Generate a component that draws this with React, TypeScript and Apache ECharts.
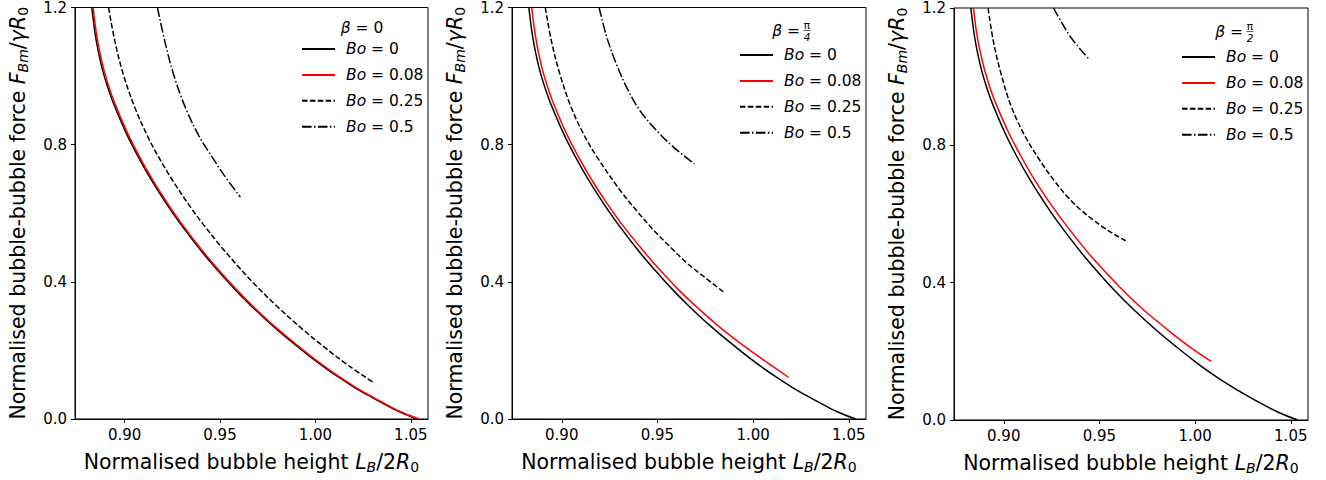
import React, { useEffect, useRef } from "react";
import * as echarts from "echarts";

// ---------- data ----------
const xTickValues = [0.9, 0.95, 1.0, 1.05];
const seriesNames = ["Bo = 0", "Bo = 0.08", "Bo = 0.25", "Bo = 0.5"];
const betaLabels = ["0", "π/4", "π/2"];

// Bo = 0 (identical for every β)
const boZeroX = [0.8828, 0.8845, 0.8862, 0.8884, 0.891, 0.8942, 0.9009, 0.907, 0.914, 0.9212, 0.9289, 0.9403, 0.949, 0.9578, 0.968, 0.9796, 0.99, 1.0005, 1.01, 1.02, 1.028, 1.035, 1.044, 1.0535];
const boZeroY = [1.2, 1.125, 1.072, 1.019, 0.97, 0.92, 0.833, 0.766, 0.697, 0.634, 0.572, 0.489, 0.432, 0.378, 0.321, 0.262, 0.214, 0.168, 0.13, 0.094, 0.068, 0.047, 0.021, 0.0];

// β = 0
const beta0Bo008X = [0.8835, 0.8852, 0.8869, 0.8891, 0.8917, 0.8949, 0.9016, 0.9077, 0.9147, 0.9219, 0.9296, 0.941, 0.9497, 0.9585, 0.9687, 0.9803, 0.9907, 1.0012, 1.0107, 1.0207, 1.0287, 1.0357, 1.0447, 1.0542];
const beta0Bo008Y = [1.2, 1.125, 1.072, 1.019, 0.97, 0.92, 0.833, 0.766, 0.697, 0.634, 0.572, 0.489, 0.432, 0.378, 0.321, 0.262, 0.214, 0.168, 0.13, 0.094, 0.068, 0.047, 0.021, 0.0];
const beta0Bo025X = [0.8916, 0.8948, 0.8992, 0.9053, 0.912, 0.918, 0.925, 0.9335, 0.941, 0.9505, 0.96, 0.9683, 0.98, 0.993, 1.005, 1.0173, 1.0305];
const beta0Bo025Y = [1.2, 1.104, 1.007, 0.909, 0.825, 0.762, 0.697, 0.626, 0.569, 0.503, 0.442, 0.392, 0.328, 0.263, 0.208, 0.156, 0.106];
const beta0Bo05X = [0.9172, 0.921, 0.9256, 0.9318, 0.939, 0.9446, 0.952, 0.9607];
const beta0Bo05Y = [1.2, 1.103, 1.006, 0.909, 0.825, 0.775, 0.712, 0.647];

// β = π/4
const beta4Bo008X = [0.8843, 0.886, 0.8877, 0.8899, 0.8925, 0.8957, 0.9024, 0.9086, 0.9157, 0.923, 0.9309, 0.9428, 0.9517, 0.9608, 0.9716, 0.9838, 0.995, 1.0065, 1.0186];
const beta4Bo008Y = [1.2, 1.125, 1.072, 1.019, 0.97, 0.92, 0.833, 0.766, 0.697, 0.634, 0.572, 0.489, 0.432, 0.378, 0.321, 0.262, 0.214, 0.168, 0.121];
const beta4Bo025X = [0.8914, 0.8945, 0.8988, 0.9045, 0.911, 0.9183, 0.9305, 0.9395, 0.9481, 0.957, 0.9656, 0.975, 0.9844];
const beta4Bo025Y = [1.2, 1.105, 1.01, 0.915, 0.835, 0.765, 0.667, 0.605, 0.55, 0.5, 0.454, 0.412, 0.371];
const beta4Bo05X = [0.9195, 0.9232, 0.9275, 0.9339, 0.9409, 0.9496, 0.9584, 0.9693];
const beta4Bo05Y = [1.2, 1.12, 1.05, 0.967, 0.899, 0.841, 0.793, 0.744];

// β = π/2
const beta2Bo008X = [0.8842, 0.8859, 0.8877, 0.89, 0.8927, 0.896, 0.9029, 0.9092, 0.9164, 0.9239, 0.932, 0.9438, 0.953, 0.9623, 0.973, 0.9858, 0.997, 1.0084];
const beta2Bo008Y = [1.2, 1.125, 1.072, 1.019, 0.97, 0.92, 0.833, 0.766, 0.697, 0.634, 0.572, 0.489, 0.432, 0.378, 0.321, 0.262, 0.214, 0.171];
const beta2Bo025X = [0.8918, 0.8945, 0.8985, 0.904, 0.911, 0.919, 0.926, 0.933, 0.94, 0.946, 0.9523, 0.958, 0.9637];
const beta2Bo025Y = [1.2, 1.105, 1.01, 0.912, 0.828, 0.755, 0.7, 0.652, 0.613, 0.586, 0.56, 0.54, 0.522];
const beta2Bo05X = [0.926, 0.93, 0.935, 0.94, 0.9447];
const beta2Bo05Y = [1.2, 1.16, 1.115, 1.08, 1.05];

// ---------- helpers ----------
const FONT = "DejaVu Sans";
const zip = (xs: number[], ys: number[]) => xs.map((x, i) => [x, ys[i]]);

const panelData = [
  [zip(boZeroX, boZeroY), zip(beta0Bo008X, beta0Bo008Y), zip(beta0Bo025X, beta0Bo025Y), zip(beta0Bo05X, beta0Bo05Y)],
  [zip(boZeroX, boZeroY), zip(beta4Bo008X, beta4Bo008Y), zip(beta4Bo025X, beta4Bo025Y), zip(beta4Bo05X, beta4Bo05Y)],
  [zip(boZeroX, boZeroY), zip(beta2Bo008X, beta2Bo008Y), zip(beta2Bo025X, beta2Bo025Y), zip(beta2Bo05X, beta2Bo05Y)],
];

const lineColors = ["#000000", "#ff0000", "#000000", "#000000"];
const lineTypes: any[] = ["solid", "solid", [5.5, 2.4], [9.6, 2.4, 1.5, 2.4]];

const grids = [
  { left: 75, top: 7, width: 353, height: 412 },
  { left: 512, top: 7, width: 354, height: 412 },
  { left: 954, top: 8, width: 354, height: 413 },
];
const legendPos = [
  { left: 296, top: 36 },
  { left: 734, top: 42 },
  { left: 1176, top: 44 },
];

const nameRich = {
  i: { fontFamily: FONT, fontSize: 20.5, fontStyle: "italic", color: "#000", lineHeight: 24 },
  s: { fontFamily: FONT, fontSize: 14, fontStyle: "italic", color: "#000", lineHeight: 13, verticalAlign: "bottom" },
  s0: { fontFamily: FONT, fontSize: 14, color: "#000", lineHeight: 13, verticalAlign: "bottom" },
};

export default function App() {
  const ref = useRef<HTMLDivElement>(null);
  useEffect(() => {
    if (!ref.current) return;
    const chart = echarts.init(ref.current, undefined, { renderer: "svg" });

    const xAxes = grids.map((_, i) => ({
      type: "value",
      gridIndex: i,
      min: 0.874,
      max: 1.059,
      axisLine: { show: true, lineStyle: { color: "#000", width: 1 } },
      axisTick: { show: true, length: 4, customValues: xTickValues, lineStyle: { color: "#000" } },
      axisLabel: {
        customValues: xTickValues,
        formatter: (v: number) => v.toFixed(2),
        fontFamily: FONT,
        fontSize: 15,
        color: "#000",
        margin: 8,
      },
      splitLine: { show: false },
      name: "Normalised bubble height {i|L}{s|B}/2{i|R}{s0|0}",
      nameLocation: "middle",
      nameGap: 31,
      nameTextStyle: { fontFamily: FONT, fontSize: 20.5, color: "#000", lineHeight: 24, rich: nameRich },
    }));

    const yAxes = grids.map((_, i) => ({
      type: "value",
      gridIndex: i,
      min: 0,
      max: 1.2,
      interval: 0.4,
      axisLine: { show: true, lineStyle: { color: "#000", width: 1 } },
      axisTick: { show: true, length: 4, lineStyle: { color: "#000" } },
      axisLabel: {
        formatter: (v: number) => v.toFixed(1),
        fontFamily: FONT,
        fontSize: 15,
        color: "#000",
        margin: 8,
      },
      splitLine: { show: false },
      name: "Normalised bubble-bubble force {i|F}{s|Bm}/{i|γR}{s0|0}",
      nameLocation: "middle",
      nameGap: 45,
      nameRotate: 90,
      nameTextStyle: { fontFamily: FONT, fontSize: 20.5, color: "#000", lineHeight: 24, rich: nameRich },
    }));

    const series: any[] = [];
    panelData.forEach((panel, p) => {
      panel.forEach((data, k) => {
        series.push({
          type: "line",
          name: seriesNames[k],
          xAxisIndex: p,
          yAxisIndex: p,
          data,
          symbol: "none",
          smooth: 0.35,
          lineStyle: { color: lineColors[k], width: 1.5, type: lineTypes[k] },
          itemStyle: { color: lineColors[k] },
          z: 2 + k,
        });
      });
    });

    const legends = legendPos.map((pos) => ({
      data: seriesNames,
      orient: "vertical",
      left: pos.left,
      top: pos.top,
      itemWidth: 33,
      itemHeight: 14,
      itemGap: 9.9,
      selectedMode: false,
      itemStyle: { opacity: 0 },
      formatter: (name: string) => `{i|Bo}{n|${name.slice(2)}}`,
      textStyle: {
        fontFamily: FONT,
        fontSize: 15.5,
        lineHeight: 15,
        color: "#000",
        padding: [0, 0, 0, 6],
        rich: {
          i: { fontFamily: FONT, fontSize: 15.5, lineHeight: 15, fontStyle: "italic", color: "#000" },
          n: { fontFamily: FONT, fontSize: 15.5, lineHeight: 15, color: "#000" },
        },
      },
    }));

    const titleText = (x: number, y: number, label: string) => {
      const els: any[] = [];
      if (label === "0") {
        els.push({
          type: "text",
          x,
          y,
          style: {
            text: "{b|β} = 0",
            align: "center",
            verticalAlign: "middle",
            fontFamily: FONT,
            fontSize: 15.5,
            fill: "#000",
            rich: { b: { fontFamily: FONT, fontSize: 15.5, fontStyle: "italic", fill: "#000" } },
          },
        });
      } else {
        const [num, den] = label.split("/");
        els.push({
          type: "text",
          x: x + 4,
          y,
          style: {
            text: "{b|β} =",
            align: "right",
            verticalAlign: "middle",
            fontFamily: FONT,
            fontSize: 15.5,
            fill: "#000",
            rich: { b: { fontFamily: FONT, fontSize: 15.5, fontStyle: "italic", fill: "#000" } },
          },
        });
        els.push({
          type: "text",
          x: x + 11,
          y: y - 6,
          style: { text: num, align: "center", verticalAlign: "middle", fontFamily: FONT, fontSize: 10.5, fill: "#000" },
        });
        els.push({
          type: "line",
          shape: { x1: x + 7.5, y1: y - 0.5, x2: x + 14.5, y2: y - 0.5 },
          style: { stroke: "#000", lineWidth: 0.6 },
        });
        els.push({
          type: "text",
          x: x + 11,
          y: y + 5.5,
          style: { text: den, align: "center", verticalAlign: "middle", fontFamily: FONT, fontSize: 10.5, fontStyle: "italic", fill: "#000" },
        });
      }
      return els;
    };

    const graphic = [
      ...titleText(362, 28, betaLabels[0]),
      ...titleText(796, 31, betaLabels[1]),
      ...titleText(1239, 32, betaLabels[2]),
    ];

    chart.setOption({
      animation: false,
      backgroundColor: "#fff",
      grid: grids.map((g) => ({ ...g, show: true, borderColor: "#000", borderWidth: 1, backgroundColor: "transparent" })),
      xAxis: xAxes,
      yAxis: yAxes,
      legend: legends,
      series,
      graphic,
    });
    return () => chart.dispose();
  }, []);

  return <div ref={ref} style={{ position: "absolute", left: 0, top: 0, width: 1326, height: 480 }} />;
}
